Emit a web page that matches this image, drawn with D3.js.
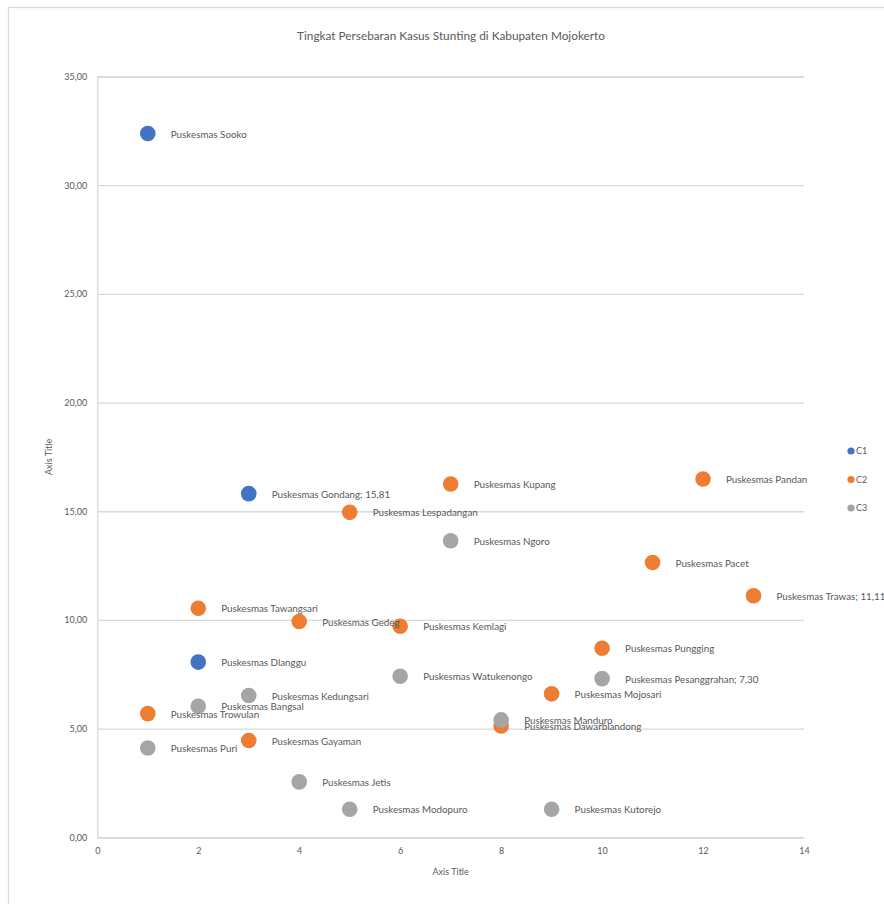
<!DOCTYPE html>
<html>
<head>
<meta charset="utf-8">
<script src="https://cdn.jsdelivr.net/npm/d3@7/dist/d3.min.js"></script>
<style>
  html, body { margin: 0; padding: 0; background: #fff; }
  svg { display: block; font-family: Lato, "Open Sans", sans-serif; }
</style>
</head>
<body>
<svg id="chart" width="884" height="904"></svg>
<script>
// Cluster C1
const c1Names = ["Puskesmas Sooko", "Puskesmas Gondang; 15,81", "Puskesmas Dlanggu"];
const c1X = [1, 3, 2];
const c1Y = [32.38, 15.81, 8.06];

// Cluster C2
const c2Names = ["Puskesmas Tawangsari", "Puskesmas Gedeg", "Puskesmas Kemlagi", "Puskesmas Trowulan",
  "Puskesmas Gayaman", "Puskesmas Lespadangan", "Puskesmas Kupang", "Puskesmas Pandan",
  "Puskesmas Pacet", "Puskesmas Trawas; 11,11", "Puskesmas Pungging", "Puskesmas Mojosari",
  "Puskesmas Dawarblandong"];
const c2X = [2, 4, 6, 1, 3, 5, 7, 12, 11, 13, 10, 9, 8];
const c2Y = [10.54, 9.93, 9.71, 5.69, 4.45, 14.95, 16.25, 16.48, 12.64, 11.11, 8.70, 6.60, 5.12];

// Cluster C3
const c3Names = ["Puskesmas Bangsal", "Puskesmas Kedungsari", "Puskesmas Puri", "Puskesmas Jetis",
  "Puskesmas Modopuro", "Puskesmas Watukenongo", "Puskesmas Ngoro", "Puskesmas Pesanggrahan; 7,30",
  "Puskesmas Manduro", "Puskesmas Kutorejo"];
const c3X = [2, 3, 1, 4, 5, 6, 7, 10, 8, 9];
const c3Y = [6.03, 6.52, 4.11, 2.55, 1.29, 7.41, 13.64, 7.30, 5.40, 1.29];

const seriesNames = ["C1", "C2", "C3"];
const seriesColors = ["#4472C4", "#ED7D31", "#A5A5A5"];
const xTicks = [0, 2, 4, 6, 8, 10, 12, 14];
const yTicks = [0, 5, 10, 15, 20, 25, 30, 35];

const chartTitle = "Tingkat Persebaran Kasus Stunting di Kabupaten Mojokerto";
const xTitle = "Axis Title";
const yTitle = "Axis Title";

const series = [
  { name: seriesNames[0], color: seriesColors[0], pts: c1X.map((x, i) => ({ x, y: c1Y[i], label: c1Names[i] })) },
  { name: seriesNames[1], color: seriesColors[1], pts: c2X.map((x, i) => ({ x, y: c2Y[i], label: c2Names[i] })) },
  { name: seriesNames[2], color: seriesColors[2], pts: c3X.map((x, i) => ({ x, y: c3Y[i], label: c3Names[i] })) }
];

const svg = d3.select("#chart");
const textColor = "#595959";
const gridColor = "#D9D9D9";

// outer chart frame
svg.append("rect")
  .attr("x", 8.5).attr("y", 7.5).attr("width", 1000).attr("height", 1000)
  .attr("fill", "#fff").attr("stroke", gridColor).attr("stroke-width", 1.3);

const plot = { left: 97.3, right: 804, top: 76.5, bottom: 837.3 };
const x = d3.scaleLinear().domain([0, 14]).range([plot.left, plot.right]);
const y = d3.scaleLinear().domain([0, 35]).range([plot.bottom, plot.top]);

// title
svg.append("text")
  .attr("x", 451).attr("y", 40)
  .attr("text-anchor", "middle")
  .attr("font-size", 11.8).attr("fill", textColor)
  .text(chartTitle);

// horizontal gridlines + y axis labels
const yAxis = d3.axisLeft(y).tickValues(yTicks)
  .tickFormat(d => d3.format(".2f")(d).replace(".", ","))
  .tickSize(-(plot.right - plot.left)).tickPadding(10);
const gy = svg.append("g").attr("transform", `translate(${plot.left},0)`).call(yAxis);
gy.select(".domain").attr("stroke", gridColor).attr("stroke-width", 1.3);
gy.selectAll(".tick line").attr("stroke", gridColor).attr("stroke-width", 1.3);
gy.selectAll(".tick text").attr("fill", textColor).attr("font-size", 9)
  .attr("font-family", "Lato, 'Open Sans', sans-serif");

// x axis labels
const xAxis = d3.axisBottom(x).tickValues(xTicks).tickSize(0).tickPadding(10);
const gx = svg.append("g").attr("transform", `translate(0,${plot.bottom})`).call(xAxis);
gx.select(".domain").attr("stroke", gridColor).attr("stroke-width", 1.3);
gx.selectAll(".tick text").attr("fill", textColor).attr("font-size", 9)
  .attr("font-family", "Lato, 'Open Sans', sans-serif");

// axis titles
svg.append("text")
  .attr("x", (plot.left + plot.right) / 2).attr("y", 875)
  .attr("text-anchor", "middle").attr("font-size", 9).attr("fill", textColor)
  .text(xTitle);
svg.append("text")
  .attr("transform", `translate(52,${(plot.top + plot.bottom) / 2}) rotate(-90)`)
  .attr("text-anchor", "middle").attr("font-size", 9).attr("fill", textColor)
  .text(yTitle);

// markers
series.forEach(s => {
  svg.append("g").selectAll("circle").data(s.pts).join("circle")
    .attr("cx", d => x(d.x)).attr("cy", d => y(d.y)).attr("r", 7.8)
    .attr("fill", s.color);
});

// data labels
series.forEach(s => {
  svg.append("g").selectAll("text").data(s.pts).join("text")
    .attr("x", d => x(d.x) + 23).attr("y", d => y(d.y))
    .attr("dy", "0.42em")
    .attr("font-size", 9.8).attr("fill", textColor)
    .text(d => d.label);
});

// legend
const legend = svg.append("g");
series.forEach((s, i) => {
  const ly = 451 + i * 28.5;
  legend.append("circle").attr("cx", 851).attr("cy", ly).attr("r", 3.6).attr("fill", s.color);
  legend.append("text").attr("x", 856).attr("y", ly).attr("dy", "0.36em")
    .attr("font-size", 9).attr("fill", textColor).text(s.name);
});
</script>
</body>
</html>
